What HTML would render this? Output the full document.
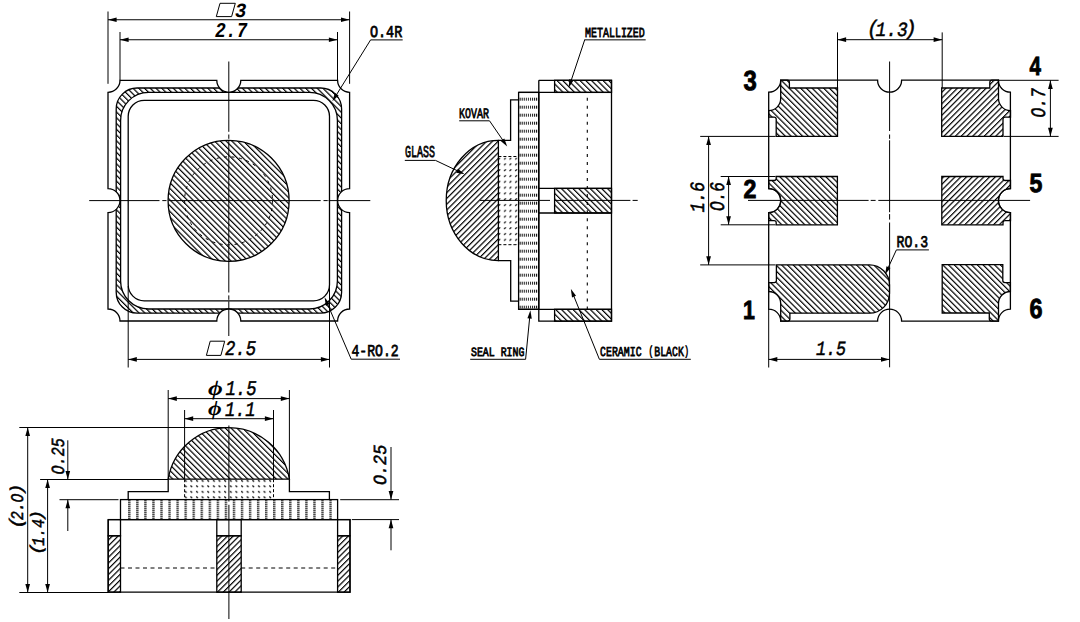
<!DOCTYPE html>
<html><head><meta charset="utf-8"><title>Package drawing</title>
<style>
html,body{margin:0;padding:0;background:#fff;}
body{width:1080px;height:622px;overflow:hidden;font-family:"Liberation Sans",sans-serif;}
svg{display:block;}
text{text-rendering:geometricPrecision;}
</style></head><body>
<svg width="1080" height="622" viewBox="0 0 1080 622">
<defs>
<pattern id="hB" patternUnits="userSpaceOnUse" x="2.547" width="4.07" height="20" patternTransform="rotate(-45)">
<rect x="0" y="0" width="1.2" height="20" fill="#000"/></pattern>
<pattern id="hF" patternUnits="userSpaceOnUse" x="2.052" width="4.07" height="20" patternTransform="rotate(45)">
<rect x="0" y="0" width="1.2" height="20" fill="#000"/></pattern>
<pattern id="hFp" patternUnits="userSpaceOnUse" x="2.052" width="4.07" height="20" patternTransform="rotate(45)">
<rect x="0" y="0" width="1.2" height="20" fill="#000"/></pattern>
<pattern id="hFg" patternUnits="userSpaceOnUse" x="-0.246" width="4.07" height="20" patternTransform="rotate(45)">
<rect x="0" y="0" width="1.2" height="20" fill="#000"/></pattern>
<pattern id="sealH" patternUnits="userSpaceOnUse" x="519.6" y="97.7" width="2.05" height="8">
<rect x="0" y="0" width="1.05" height="3" fill="#000"/></pattern>
<pattern id="sealV" patternUnits="userSpaceOnUse" x="176.4" y="0.3" width="8.05" height="2">
<rect x="0" y="0" width="2.4" height="1.05" fill="#000"/></pattern>
<pattern id="dotsS" patternUnits="userSpaceOnUse" x="503.8" y="157.5" width="5.55" height="5.8">
<path d="M0.2 2 L2 0.3" stroke="#000" stroke-width="1.2" fill="none"/></pattern>
<pattern id="dotsF" patternUnits="userSpaceOnUse" x="190.3" y="485.3" width="5.63" height="5.5">
<path d="M0.2 0.2 L1.9 1.9" stroke="#000" stroke-width="1.2" fill="none"/></pattern>
</defs>
<rect x="0" y="0" width="1080" height="622" fill="#fff"/>
<g stroke="#000" fill="none" stroke-linecap="butt" stroke-linejoin="miter">
<path d="M137.2 88 L320.6 88 A21 21 0 0 1 341.6 109 L341.6 292.2 A21 21 0 0 1 320.6 313.2 L137.2 313.2 A21 21 0 0 1 116.2 292.2 L116.2 109 A21 21 0 0 1 137.2 88 Z M148.6 92.4 L309.4 92.4 A28 28 0 0 1 337.4 120.4 L337.4 281 A28 28 0 0 1 309.4 309 L148.6 309 A28 28 0 0 1 120.6 281 L120.6 120.4 A28 28 0 0 1 148.6 92.4 Z" fill="url(#hB)" stroke-width="1.3" fill-rule="evenodd"/>
<circle cx="228.8" cy="80.3" r="12" fill="#fff" stroke="none"/>
<circle cx="228.8" cy="321" r="12" fill="#fff" stroke="none"/>
<circle cx="108" cy="200.6" r="12" fill="#fff" stroke="none"/>
<circle cx="349.6" cy="200.6" r="12" fill="#fff" stroke="none"/>
<path d="M120 80.3 L216.8 80.3 A12 12 0 0 0 240.8 80.3 L337.6 80.3 A12 12 0 0 0 349.6 92.3 L349.6 188.6 A12 12 0 0 0 349.6 212.6 L349.6 309 A12 12 0 0 0 337.6 321 L240.8 321 A12 12 0 0 0 216.8 321 L120 321 A12 12 0 0 0 108 309 L108 212.6 A12 12 0 0 0 108 188.6 L108 92.3 A12 12 0 0 0 120 80.3 Z" fill="none" stroke-width="1.3"/>
<path d="M144.2 100.3 L313.5 100.3 A16 16 0 0 1 329.5 116.3 L329.5 284.8 A16 16 0 0 1 313.5 300.8 L144.2 300.8 A16 16 0 0 1 128.2 284.8 L128.2 116.3 A16 16 0 0 1 144.2 100.3 Z" fill="none" stroke-width="1.3"/>
<circle cx="228.6" cy="200.8" r="60.5" fill="url(#hB)" stroke-width="1.3"/>
<circle cx="228.6" cy="200.8" r="44" fill="none" stroke-width="1.0" stroke-dasharray="3 4.5"/>
<line x1="228.8" y1="61.5" x2="228.8" y2="131.8" stroke-width="1"/>
<line x1="228.8" y1="134.5" x2="228.8" y2="138.8" stroke-width="1"/>
<line x1="228.8" y1="140.3" x2="228.8" y2="292.5" stroke-width="1"/>
<line x1="228.8" y1="295.4" x2="228.8" y2="299.8" stroke-width="1"/>
<line x1="228.8" y1="301.3" x2="228.8" y2="336" stroke-width="1"/>
<line x1="89.2" y1="200.6" x2="159.5" y2="200.6" stroke-width="1"/>
<line x1="162.3" y1="200.6" x2="166.5" y2="200.6" stroke-width="1"/>
<line x1="168.5" y1="200.6" x2="320.7" y2="200.6" stroke-width="1"/>
<line x1="323.5" y1="200.6" x2="327.7" y2="200.6" stroke-width="1"/>
<line x1="328.6" y1="200.6" x2="370.3" y2="200.6" stroke-width="1"/>
<line x1="108" y1="11.5" x2="108" y2="83.8" stroke-width="1"/>
<line x1="349.6" y1="11.5" x2="349.6" y2="83.8" stroke-width="1"/>
<line x1="108" y1="19.75" x2="349.6" y2="19.75" stroke-width="1"/>
<path d="M108 19.75 L116.6 17.4 L116.6 22.1 Z" fill="#000" stroke="none"/>
<path d="M349.6 19.75 L341 22.1 L341 17.4 Z" fill="#000" stroke="none"/>
<line x1="120" y1="32" x2="120" y2="80.3" stroke-width="1"/>
<line x1="337.5" y1="32" x2="337.5" y2="80.3" stroke-width="1"/>
<line x1="120" y1="39.75" x2="337.5" y2="39.75" stroke-width="1"/>
<path d="M120 39.75 L128.6 37.4 L128.6 42.1 Z" fill="#000" stroke="none"/>
<path d="M337.5 39.75 L328.9 42.1 L328.9 37.4 Z" fill="#000" stroke="none"/>
<line x1="128.2" y1="286" x2="128.2" y2="367.5" stroke-width="1"/>
<line x1="329.5" y1="286" x2="329.5" y2="367.5" stroke-width="1"/>
<line x1="128.2" y1="359.4" x2="329.5" y2="359.4" stroke-width="1"/>
<path d="M128.2 359.4 L136.8 357.05 L136.8 361.75 Z" fill="#000" stroke="none"/>
<path d="M329.5 359.4 L320.9 361.75 L320.9 357.05 Z" fill="#000" stroke="none"/>
<path d="M216.3 16.6 L231.6 16.6 L235.3 3.3 L220 3.3 Z" fill="none" stroke-width="1"/>
<path d="M206.4 355.4 L220.9 355.4 L224.7 341.2 L210.2 341.2 Z" fill="none" stroke-width="1"/>
<line x1="370.6" y1="39.9" x2="402.7" y2="39.9" stroke-width="1"/>
<line x1="370.6" y1="39.9" x2="336.26" y2="95.1" stroke-width="1"/>
<path d="M332.4 101.3 L334.92 93.09 L338.65 95.41 Z" fill="#000" stroke="none"/>
<line x1="351.2" y1="359.2" x2="400" y2="359.2" stroke-width="1"/>
<line x1="351.2" y1="359.2" x2="327.48" y2="303.91" stroke-width="1"/>
<path d="M324.6 297.2 L329.89 303.96 L325.85 305.7 Z" fill="#000" stroke="none"/>
<path d="M538.8 80.3 L611.5 80.3 L611.5 321.2 L538.8 321.2 L538.8 80.3" fill="none" stroke-width="1.3"/>
<line x1="518.6" y1="92.4" x2="611.5" y2="92.4" stroke-width="1.3"/>
<line x1="518.6" y1="309.3" x2="611.5" y2="309.3" stroke-width="1.3"/>
<rect x="554.6" y="80.3" width="56.9" height="12.1" fill="url(#hB)" stroke-width="1.3"/>
<rect x="554.6" y="309.3" width="56.9" height="11.9" fill="url(#hB)" stroke-width="1.3"/>
<line x1="538.8" y1="188.4" x2="611.5" y2="188.4" stroke-width="1.3"/>
<line x1="538.8" y1="213" x2="611.5" y2="213" stroke-width="1.3"/>
<rect x="554.6" y="188.4" width="56.9" height="24.6" fill="url(#hB)" stroke-width="1.3"/>
<line x1="587.3" y1="93" x2="587.3" y2="309.3" stroke-width="1.1" stroke-dasharray="3 5.03" stroke-dashoffset="3.32"/>
<rect x="518.6" y="93.6" width="20.2" height="215" fill="url(#sealH)" stroke="none"/>
<rect x="518.6" y="92.4" width="20.2" height="216.9" fill="none" stroke-width="1.3"/>
<path d="M518.6 99.9 L510.6 99.9 L510.6 140.4 L498.4 140.4" fill="none" stroke-width="1.3"/>
<path d="M498.4 260.6 L510.7 260.6 L510.7 301.2 L518.6 301.2" fill="none" stroke-width="1.3"/>
<path d="M498.4 140.4 A52.2 60.1 0 0 0 498.4 260.6 Z" fill="url(#hFg)" stroke-width="1.3"/>
<rect x="498.4" y="157.5" width="19.8" height="87.2" fill="url(#dotsS)" stroke="none"/>
<line x1="498.4" y1="156.5" x2="518.2" y2="156.5" stroke-width="1" stroke-dasharray="3 2"/>
<line x1="498.4" y1="244.7" x2="518.2" y2="244.7" stroke-width="1" stroke-dasharray="3 2"/>
<line x1="479.8" y1="200.4" x2="550" y2="200.4" stroke-width="1"/>
<line x1="554.2" y1="200.4" x2="630.4" y2="200.4" stroke-width="1"/>
<line x1="632.6" y1="200.4" x2="637.7" y2="200.4" stroke-width="1"/>
<line x1="584.3" y1="39.85" x2="645.7" y2="39.85" stroke-width="1"/>
<line x1="584.7" y1="39.85" x2="571.11" y2="80.67" stroke-width="1"/>
<path d="M568.8 87.6 L569.33 79.03 L573.51 80.42 Z" fill="#000" stroke="none"/>
<line x1="459.2" y1="120.8" x2="489.5" y2="120.8" stroke-width="1"/>
<line x1="489.5" y1="120.8" x2="503.06" y2="140.49" stroke-width="1"/>
<path d="M507.2 146.5 L500.68 140.91 L504.3 138.42 Z" fill="#000" stroke="none"/>
<line x1="404.8" y1="160.4" x2="435.5" y2="160.4" stroke-width="1"/>
<line x1="435.5" y1="160.4" x2="458" y2="171.07" stroke-width="1"/>
<path d="M464.6 174.2 L456.16 172.63 L458.04 168.66 Z" fill="#000" stroke="none"/>
<line x1="470.2" y1="359.3" x2="525.6" y2="359.3" stroke-width="1"/>
<line x1="525.6" y1="359.3" x2="529.69" y2="317.47" stroke-width="1"/>
<path d="M530.4 310.2 L531.78 318.67 L527.4 318.25 Z" fill="#000" stroke="none"/>
<line x1="599.4" y1="359.3" x2="690.8" y2="359.3" stroke-width="1"/>
<line x1="599.4" y1="359.3" x2="573.64" y2="295.67" stroke-width="1"/>
<path d="M570.9 288.9 L576.05 295.77 L571.98 297.42 Z" fill="#000" stroke="none"/>
<path d="M780.7 80.2 L877.6 80.2 A12 12 0 0 0 901.6 80.2 L998.4 80.2 A12 12 0 0 0 1010.4 92.2 L1010.4 188.6 A12 12 0 0 0 1010.4 212.6 L1010.4 309.1 A12 12 0 0 0 998.4 321.1 L901.6 321.1 A12 12 0 0 0 877.6 321.1 L780.7 321.1 A12 12 0 0 0 768.7 309.1 L768.7 212.6 A12 12 0 0 0 768.7 188.6 L768.7 92.2 A12 12 0 0 0 780.7 80.2 Z" fill="none" stroke-width="1.3"/>
<path d="M780.7 80.2 L787.3 80.2 Q789.4 80.2 789.4 82.5 L789.4 88.0 L837.5 88.0 L837.5 136.4 L776.2 136.4 L776.2 119.3 Q776.2 117.2 774 117.2 L768.7 117.2 L768.7 110.6 A12 12 0 0 0 780.7 98.6 Z" fill="url(#hB)" stroke-width="1.3"/>
<path d="M998.5 80.2 L991.9 80.2 Q989.8 80.2 989.8 82.5 L989.8 88 L941.7 88 L941.7 136.4 L1003 136.4 L1003 119.3 Q1003 117.2 1005.2 117.2 L1010.5 117.2 L1010.5 110.6 A12 12 0 0 1 998.5 98.6 Z" fill="url(#hFp)" stroke-width="1.3"/>
<path d="M780.7 321.1 L787.8 321.1 Q789.9 321.1 789.9 318.8 L789.9 313.2 L869.5 313.2 A20 20 0 0 0 889.5 293.2 L889.5 284.9 A20 20 0 0 0 869.5 264.9 L776.4 264.9 L776.4 280.6 Q776.4 282.6 774.2 282.6 L768.7 282.6 L768.7 291.5 A12 12 0 0 1 780.7 303.5 Z" fill="url(#hB)" stroke-width="1.3"/>
<path d="M998.5 321.1 L991.4 321.1 Q989.3 321.1 989.3 318.8 L989.3 313.0 L942.2 313.0 L942.2 264.7 L1002.8 264.7 L1002.8 280.6 Q1002.8 282.6 1005 282.6 L1010.4 282.6 L1010.4 291.5 A12 12 0 0 0 998.5 303.5 Z" fill="url(#hB)" stroke-width="1.3"/>
<path d="M776.2 176.5 L837.4 176.5 L837.4 224.8 L776.2 224.8 L776.2 222.6 Q776.2 220.6 774 220.6 L768.7 220.6 L768.7 212.6 A12 12 0 0 0 768.7 188.6 L768.7 180.5 L774 180.5 Q776.2 180.5 776.2 178.5 Z" fill="url(#hB)" stroke-width="1.3"/>
<path d="M1003 176.5 L941.8 176.5 L941.8 224.8 L1003 224.8 L1003 222.6 Q1003 220.6 1005.2 220.6 L1010.5 220.6 L1010.5 212.6 A12 12 0 0 1 1010.5 188.6 L1010.5 180.5 L1005.2 180.5 Q1003 180.5 1003 178.5 Z" fill="url(#hFp)" stroke-width="1.3"/>
<line x1="889.6" y1="61.5" x2="889.6" y2="131" stroke-width="1"/>
<line x1="889.6" y1="134.5" x2="889.6" y2="138.8" stroke-width="1"/>
<line x1="889.6" y1="140.3" x2="889.6" y2="212.2" stroke-width="1"/>
<line x1="889.6" y1="214.1" x2="889.6" y2="219.6" stroke-width="1"/>
<line x1="889.6" y1="222.5" x2="889.6" y2="367.3" stroke-width="1"/>
<line x1="748" y1="200.4" x2="868.6" y2="200.4" stroke-width="1"/>
<line x1="870.7" y1="200.4" x2="875.6" y2="200.4" stroke-width="1"/>
<line x1="878.3" y1="200.4" x2="1030.1" y2="200.4" stroke-width="1"/>
<line x1="837.5" y1="32.4" x2="837.5" y2="88" stroke-width="1"/>
<line x1="942.2" y1="32.4" x2="942.2" y2="88" stroke-width="1"/>
<line x1="837.5" y1="39.7" x2="942.2" y2="39.7" stroke-width="1"/>
<path d="M837.5 39.7 L846.1 37.35 L846.1 42.05 Z" fill="#000" stroke="none"/>
<path d="M942.2 39.7 L933.6 42.05 L933.6 37.35 Z" fill="#000" stroke="none"/>
<line x1="998.4" y1="80.3" x2="1058.6" y2="80.3" stroke-width="1"/>
<line x1="1004" y1="136.4" x2="1058.6" y2="136.4" stroke-width="1"/>
<line x1="1050.4" y1="80.3" x2="1050.4" y2="136.4" stroke-width="1"/>
<path d="M1050.4 80.3 L1052.75 88.9 L1048.05 88.9 Z" fill="#000" stroke="none"/>
<path d="M1050.4 136.4 L1048.05 127.8 L1052.75 127.8 Z" fill="#000" stroke="none"/>
<line x1="700.2" y1="136.4" x2="775.5" y2="136.4" stroke-width="1"/>
<line x1="700.2" y1="264.9" x2="775.5" y2="264.9" stroke-width="1"/>
<line x1="708.6" y1="136.4" x2="708.6" y2="264.9" stroke-width="1"/>
<path d="M708.6 136.4 L710.95 145 L706.25 145 Z" fill="#000" stroke="none"/>
<path d="M708.6 264.9 L706.25 256.3 L710.95 256.3 Z" fill="#000" stroke="none"/>
<line x1="720.7" y1="176.5" x2="775.5" y2="176.5" stroke-width="1"/>
<line x1="720.7" y1="224.8" x2="775.5" y2="224.8" stroke-width="1"/>
<line x1="728.6" y1="176.5" x2="728.6" y2="224.8" stroke-width="1"/>
<path d="M728.6 176.5 L730.95 185.1 L726.25 185.1 Z" fill="#000" stroke="none"/>
<path d="M728.6 224.8 L726.25 216.2 L730.95 216.2 Z" fill="#000" stroke="none"/>
<line x1="768.7" y1="309" x2="768.7" y2="367.5" stroke-width="1"/>
<line x1="768.7" y1="359.4" x2="889.6" y2="359.4" stroke-width="1"/>
<path d="M768.7 359.4 L777.3 357.05 L777.3 361.75 Z" fill="#000" stroke="none"/>
<path d="M889.6 359.4 L881 361.75 L881 357.05 Z" fill="#000" stroke="none"/>
<line x1="896.4" y1="249.9" x2="928.9" y2="249.9" stroke-width="1"/>
<line x1="896.4" y1="249.9" x2="888.06" y2="267.97" stroke-width="1"/>
<path d="M885 274.6 L886.48 266.14 L890.48 267.99 Z" fill="#000" stroke="none"/>
<path d="M108.2 519.6 L350 519.6 L350 592.2 L108.2 592.2 L108.2 519.6" fill="none" stroke-width="1.3"/>
<rect x="108.2" y="519.6" width="12.3" height="16.2" fill="none" stroke-width="1.3"/>
<rect x="108.2" y="535.8" width="12.3" height="56.4" fill="url(#hFp)" stroke-width="1.3"/>
<rect x="216.8" y="519.6" width="24.4" height="16.2" fill="none" stroke-width="1.3"/>
<rect x="216.8" y="535.8" width="24.4" height="56.4" fill="url(#hFp)" stroke-width="1.3"/>
<rect x="337.6" y="519.6" width="12.4" height="16.2" fill="none" stroke-width="1.3"/>
<rect x="337.6" y="535.8" width="12.4" height="56.4" fill="url(#hFp)" stroke-width="1.3"/>
<line x1="120.5" y1="568" x2="216.8" y2="568" stroke-width="1" stroke-dasharray="4 3.5"/>
<line x1="241.2" y1="568" x2="337.6" y2="568" stroke-width="1" stroke-dasharray="4 3.5"/>
<rect x="124.5" y="499.6" width="213.1" height="20" fill="url(#sealV)" stroke="none"/>
<rect x="120.5" y="499.6" width="217.1" height="20" fill="none" stroke-width="1.3"/>
<path d="M128.2 499.6 L128.2 491.6 L168.2 491.6 L168.2 479.2" fill="none" stroke-width="1.3"/>
<path d="M329.4 499.6 L329.4 491.6 L289.4 491.6 L289.4 479.2" fill="none" stroke-width="1.3"/>
<rect x="184.6" y="480" width="88.9" height="19.6" fill="url(#dotsF)" stroke="none"/>
<line x1="184.6" y1="479.2" x2="184.6" y2="499.6" stroke-width="1" stroke-dasharray="3 2"/>
<line x1="273.5" y1="479.2" x2="273.5" y2="499.6" stroke-width="1" stroke-dasharray="3 2"/>
<path d="M168.2 479.2 A61.4 61.4 0 0 1 289.4 479.2 Z" fill="url(#hB)" stroke-width="1.3"/>
<line x1="228.9" y1="425.5" x2="228.9" y2="501.5" stroke-width="1"/>
<line x1="228.9" y1="504.8" x2="228.9" y2="619" stroke-width="1"/>
<line x1="168.2" y1="390" x2="168.2" y2="479" stroke-width="1"/>
<line x1="289.4" y1="390" x2="289.4" y2="479" stroke-width="1"/>
<line x1="168.2" y1="398.6" x2="289.4" y2="398.6" stroke-width="1"/>
<path d="M168.2 398.6 L176.8 396.25 L176.8 400.95 Z" fill="#000" stroke="none"/>
<path d="M289.4 398.6 L280.8 400.95 L280.8 396.25 Z" fill="#000" stroke="none"/>
<line x1="184.6" y1="410" x2="184.6" y2="479" stroke-width="1"/>
<line x1="273.5" y1="410" x2="273.5" y2="479" stroke-width="1"/>
<line x1="184.6" y1="418.7" x2="273.5" y2="418.7" stroke-width="1"/>
<path d="M184.6 418.7 L193.2 416.35 L193.2 421.05 Z" fill="#000" stroke="none"/>
<path d="M273.5 418.7 L264.9 421.05 L264.9 416.35 Z" fill="#000" stroke="none"/>
<line x1="19.3" y1="427.5" x2="229" y2="427.5" stroke-width="1"/>
<line x1="19.3" y1="592.5" x2="108.2" y2="592.5" stroke-width="1"/>
<line x1="40.1" y1="479.5" x2="168.2" y2="479.5" stroke-width="1"/>
<line x1="59.5" y1="499.7" x2="118.5" y2="499.7" stroke-width="1"/>
<line x1="27.7" y1="427.5" x2="27.7" y2="592.5" stroke-width="1"/>
<path d="M27.7 427.5 L30.05 436.1 L25.35 436.1 Z" fill="#000" stroke="none"/>
<path d="M27.7 592.5 L25.35 583.9 L30.05 583.9 Z" fill="#000" stroke="none"/>
<line x1="47.6" y1="479.5" x2="47.6" y2="592.5" stroke-width="1"/>
<path d="M47.6 479.5 L49.95 488.1 L45.25 488.1 Z" fill="#000" stroke="none"/>
<path d="M47.6 592.5 L45.25 583.9 L49.95 583.9 Z" fill="#000" stroke="none"/>
<line x1="67.8" y1="440.3" x2="67.8" y2="479.5" stroke-width="1"/>
<path d="M67.8 479.5 L65.45 470.9 L70.15 470.9 Z" fill="#000" stroke="none"/>
<line x1="67.8" y1="499.7" x2="67.8" y2="531" stroke-width="1"/>
<path d="M67.8 499.7 L70.15 508.3 L65.45 508.3 Z" fill="#000" stroke="none"/>
<line x1="340.2" y1="499.7" x2="399" y2="499.7" stroke-width="1"/>
<line x1="351.8" y1="519.6" x2="399" y2="519.6" stroke-width="1"/>
<line x1="391" y1="447" x2="391" y2="499.7" stroke-width="1"/>
<path d="M391 499.7 L388.65 491.1 L393.35 491.1 Z" fill="#000" stroke="none"/>
<line x1="391" y1="519.6" x2="391" y2="550.3" stroke-width="1"/>
<path d="M391 519.6 L393.35 528.2 L388.65 528.2 Z" fill="#000" stroke="none"/>
<text x="235" y="16.5" font-family="Liberation Mono" font-size="20.12" font-style="italic" font-weight="bold" textLength="11.34" lengthAdjust="spacingAndGlyphs" fill="#000" stroke="none">3</text>
<text x="215" y="36.5" font-family="Liberation Mono" font-size="21.14" font-style="italic" font-weight="bold" textLength="32.3" lengthAdjust="spacingAndGlyphs" fill="#000" stroke="none">2.7</text>
<text x="225" y="355" font-family="Liberation Mono" font-size="20.81" font-style="italic" textLength="31.13" lengthAdjust="spacingAndGlyphs" fill="#000" stroke="#000" stroke-width="0.5">2.5</text>
<text x="370" y="36.5" font-family="Liberation Mono" font-size="16.55" textLength="32.23" lengthAdjust="spacingAndGlyphs" fill="#000" stroke="#000" stroke-width="0.75">O.4R</text>
<text x="351.5" y="355.5" font-family="Liberation Mono" font-size="16.71" textLength="47.24" lengthAdjust="spacingAndGlyphs" fill="#000" stroke="#000" stroke-width="0.75">4-RO.2</text>
<text x="585" y="37" font-family="Liberation Mono" font-size="13.71" textLength="59.82" lengthAdjust="spacingAndGlyphs" fill="#000" stroke="#000" stroke-width="0.75">METALLIZED</text>
<text x="459" y="118" font-family="Liberation Mono" font-size="14.39" textLength="29.93" lengthAdjust="spacingAndGlyphs" fill="#000" stroke="#000" stroke-width="0.75">KOVAR</text>
<text x="405" y="156.5" font-family="Liberation Mono" font-size="16.62" textLength="29.95" lengthAdjust="spacingAndGlyphs" fill="#000" stroke="#000" stroke-width="0.75">GLASS</text>
<text x="471" y="355.5" font-family="Liberation Mono" font-size="12.71" textLength="53.38" lengthAdjust="spacingAndGlyphs" fill="#000" stroke="#000" stroke-width="0.75">SEAL RING</text>
<text x="600.1" y="355.7" font-family="Liberation Mono" font-size="13.66" textLength="41.48" lengthAdjust="spacingAndGlyphs" fill="#000" stroke="#000" stroke-width="0.75">CERAMIC</text>
<text x="648.6" y="355" font-family="Liberation Mono" font-size="13.09" textLength="4.94" lengthAdjust="spacingAndGlyphs" fill="#000" stroke="#000" stroke-width="0.75">(</text>
<text x="654.3" y="355.7" font-family="Liberation Mono" font-size="13.78" textLength="29.54" lengthAdjust="spacingAndGlyphs" fill="#000" stroke="#000" stroke-width="0.75">BLACK</text>
<text x="684.3" y="355" font-family="Liberation Mono" font-size="13.09" textLength="4.69" lengthAdjust="spacingAndGlyphs" fill="#000" stroke="#000" stroke-width="0.75">)</text>
<text x="867" y="34.5" font-family="Liberation Mono" font-size="20.93" font-style="italic" textLength="11.89" lengthAdjust="spacingAndGlyphs" fill="#000" stroke="#000" stroke-width="0.5">(</text>
<text x="875.5" y="36" font-family="Liberation Mono" font-size="20.09" font-style="italic" textLength="32.1" lengthAdjust="spacingAndGlyphs" fill="#000" stroke="#000" stroke-width="0.5">1.3</text>
<text x="904.5" y="34.5" font-family="Liberation Mono" font-size="20.93" font-style="italic" textLength="12.34" lengthAdjust="spacingAndGlyphs" fill="#000" stroke="#000" stroke-width="0.5">)</text>
<text x="1045" y="117.5" font-family="Liberation Mono" font-size="20.55" font-style="italic" textLength="29.15" lengthAdjust="spacingAndGlyphs" transform="rotate(-90 1045 117.5)" fill="#000" stroke="#000" stroke-width="0.5">O.7</text>
<text x="703.5" y="212.5" font-family="Liberation Mono" font-size="20.33" font-style="italic" textLength="30.61" lengthAdjust="spacingAndGlyphs" transform="rotate(-90 703.5 212.5)" fill="#000" stroke="#000" stroke-width="0.5">1.6</text>
<text x="724" y="211" font-family="Liberation Mono" font-size="20.78" font-style="italic" textLength="28.95" lengthAdjust="spacingAndGlyphs" transform="rotate(-90 724 211)" fill="#000" stroke="#000" stroke-width="0.5">O.6</text>
<text x="816" y="355" font-family="Liberation Mono" font-size="19.97" font-style="italic" textLength="30.08" lengthAdjust="spacingAndGlyphs" fill="#000" stroke="#000" stroke-width="0.5">1.5</text>
<text x="896.5" y="247" font-family="Liberation Mono" font-size="16.42" textLength="31.59" lengthAdjust="spacingAndGlyphs" fill="#000" stroke="#000" stroke-width="0.75">RO.3</text>
<text x="743.5" y="90" font-family="Liberation Sans" font-size="27.68" font-weight="bold" textLength="13.27" lengthAdjust="spacingAndGlyphs" fill="#000" stroke="#000" stroke-width="0.9">3</text>
<text x="1029.5" y="74.5" font-family="Liberation Sans" font-size="26.43" font-weight="bold" textLength="11.44" lengthAdjust="spacingAndGlyphs" fill="#000" stroke="#000" stroke-width="0.9">4</text>
<text x="743.5" y="198" font-family="Liberation Sans" font-size="26.01" font-weight="bold" textLength="12.88" lengthAdjust="spacingAndGlyphs" fill="#000" stroke="#000" stroke-width="0.9">2</text>
<text x="1029.5" y="191.5" font-family="Liberation Sans" font-size="26.43" font-weight="bold" textLength="12.85" lengthAdjust="spacingAndGlyphs" fill="#000" stroke="#000" stroke-width="0.9">5</text>
<text x="743" y="319" font-family="Liberation Sans" font-size="26.43" font-weight="bold" textLength="11.88" lengthAdjust="spacingAndGlyphs" fill="#000" stroke="#000" stroke-width="0.9">1</text>
<text x="1029.5" y="318" font-family="Liberation Sans" font-size="27.56" font-weight="bold" textLength="13.03" lengthAdjust="spacingAndGlyphs" fill="#000" stroke="#000" stroke-width="0.9">6</text>
<text x="208" y="395" font-family="Liberation Serif" font-size="20.83" font-style="italic" font-weight="bold" textLength="14.72" lengthAdjust="spacingAndGlyphs" fill="#000" stroke="none">&#x3D5;</text>
<text x="225.5" y="394.5" font-family="Liberation Mono" font-size="20.78" font-style="italic" textLength="31" lengthAdjust="spacingAndGlyphs" fill="#000" stroke="#000" stroke-width="0.5">1.5</text>
<text x="208" y="415" font-family="Liberation Serif" font-size="20.33" font-style="italic" font-weight="bold" textLength="13.67" lengthAdjust="spacingAndGlyphs" fill="#000" stroke="none">&#x3D5;</text>
<text x="225" y="415.5" font-family="Liberation Mono" font-size="20.61" font-style="italic" textLength="30.4" lengthAdjust="spacingAndGlyphs" fill="#000" stroke="#000" stroke-width="0.5">1.1</text>
<text x="22" y="529" font-family="Liberation Mono" font-size="18.15" font-style="italic" textLength="12.73" lengthAdjust="spacingAndGlyphs" transform="rotate(-90 22 529)" fill="#000" stroke="#000" stroke-width="0.5">(</text>
<text x="22.5" y="520" font-family="Liberation Mono" font-size="17.82" font-style="italic" textLength="26.32" lengthAdjust="spacingAndGlyphs" transform="rotate(-90 22.5 520)" fill="#000" stroke="#000" stroke-width="0.5">2.O</text>
<text x="22" y="495" font-family="Liberation Mono" font-size="17.07" font-style="italic" textLength="11.49" lengthAdjust="spacingAndGlyphs" transform="rotate(-90 22 495)" fill="#000" stroke="#000" stroke-width="0.5">)</text>
<text x="42" y="555" font-family="Liberation Mono" font-size="17.07" font-style="italic" textLength="11.9" lengthAdjust="spacingAndGlyphs" transform="rotate(-90 42 555)" fill="#000" stroke="#000" stroke-width="0.5">(</text>
<text x="43.5" y="546" font-family="Liberation Mono" font-size="17.82" font-style="italic" textLength="27.15" lengthAdjust="spacingAndGlyphs" transform="rotate(-90 43.5 546)" fill="#000" stroke="#000" stroke-width="0.5">1.4</text>
<text x="42" y="521" font-family="Liberation Mono" font-size="16.63" font-style="italic" textLength="11.03" lengthAdjust="spacingAndGlyphs" transform="rotate(-90 42 521)" fill="#000" stroke="#000" stroke-width="0.5">)</text>
<text x="63.5" y="474.5" font-family="Liberation Mono" font-size="18.57" font-style="italic" textLength="36.39" lengthAdjust="spacingAndGlyphs" transform="rotate(-90 63.5 474.5)" fill="#000" stroke="#000" stroke-width="0.5">O.25</text>
<text x="385.5" y="485" font-family="Liberation Mono" font-size="18.48" font-style="italic" textLength="40.19" lengthAdjust="spacingAndGlyphs" transform="rotate(-90 385.5 485)" fill="#000" stroke="#000" stroke-width="0.5">O.25</text>
</g>
</svg>
</body></html>
